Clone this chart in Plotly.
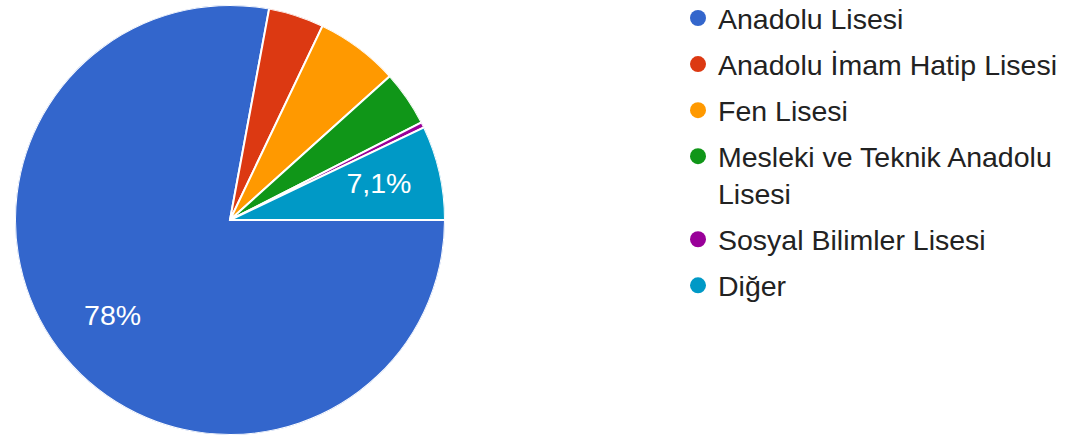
import plotly.graph_objects as go

labels = ["Anadolu Lisesi", "Anadolu İmam Hatip Lisesi", "Fen Lisesi",
          "Mesleki ve Teknik Anadolu Lisesi", "Sosyal Bilimler Lisesi", "Diğer"]
counts = [187, 10, 15, 10, 1, 17]
colors = ["#3366CC", "#DC3912", "#FF9900", "#109618", "#990099", "#0099C6"]
legend_labels = ["Anadolu Lisesi", "Anadolu İmam Hatip Lisesi", "Fen Lisesi",
                 "Mesleki ve Teknik Anadolu<br>Lisesi", "Sosyal Bilimler Lisesi", "Diğer"]

total = sum(counts)
pcts = [c / total * 100 for c in counts]
slice_text = [(f"{p:.2g}".replace(".", ",") + "%") if p >= 7 else "" for p in pcts]

# slice geometry (degrees clockwise from 12 o'clock; first slice starts at 3 o'clock)
spans = [c / total * 360 for c in counts]
mid_theta = []
acc = 0
for s in spans:
    mid_theta.append(90 + acc + s / 2)
    acc += s

FONT = "Arial, Liberation Sans, sans-serif"
W, H = 1066, 437

cx, cy, R = 230, 220, 215
pie_domain = dict(x=[(cx - R) / W, (cx + R) / W], y=[(H - (cy + R)) / H, (H - (cy - R)) / H])

fig = go.Figure()
# pie slices as full-radius polar wedges
fig.add_trace(go.Barpolar(
    r=[1] * len(counts), theta=mid_theta, width=spans, base=0,
    marker=dict(color=colors, line=dict(color="white", width=2)),
    text=labels, hovertemplate="%{text}<extra></extra>",
    showlegend=False,
))
# slice labels
fig.add_trace(go.Scatterpolar(
    r=[0.71] * len(counts), theta=mid_theta, mode="text", text=slice_text,
    textposition="middle center",
    textfont=dict(color="white", size=28.5, family=FONT),
    showlegend=False, hoverinfo="skip",
))

for i, (name, col) in enumerate(zip(legend_labels, colors)):
    fig.add_trace(go.Scatter(
        x=[None], y=[None], mode="markers", name=name, legendgroup=str(i),
        marker=dict(color=col, size=28, symbol="circle"),
    ))

fig.update_layout(
    width=W, height=H,
    margin=dict(l=0, r=0, t=0, b=0, autoexpand=False),
    paper_bgcolor="white", plot_bgcolor="white",
    xaxis=dict(visible=False), yaxis=dict(visible=False),
    polar=dict(
        domain=pie_domain, bgcolor="rgba(0,0,0,0)", bargap=0, hole=0,
        radialaxis=dict(range=[0, 1], visible=False),
        angularaxis=dict(rotation=90, direction="clockwise", visible=False),
    ),
    legend=dict(x=(718 - 40) / W, y=1 + 7 / H, xanchor="left", yanchor="top",
                valign="top", maxheight=600,
                font=dict(size=28.5, color="#222222", family=FONT),
                tracegroupgap=6, bgcolor="rgba(0,0,0,0)"),
)

fig.write_html("out.html", config={"displayModeBar": False},
               post_script="document.body.style.margin='0';")
